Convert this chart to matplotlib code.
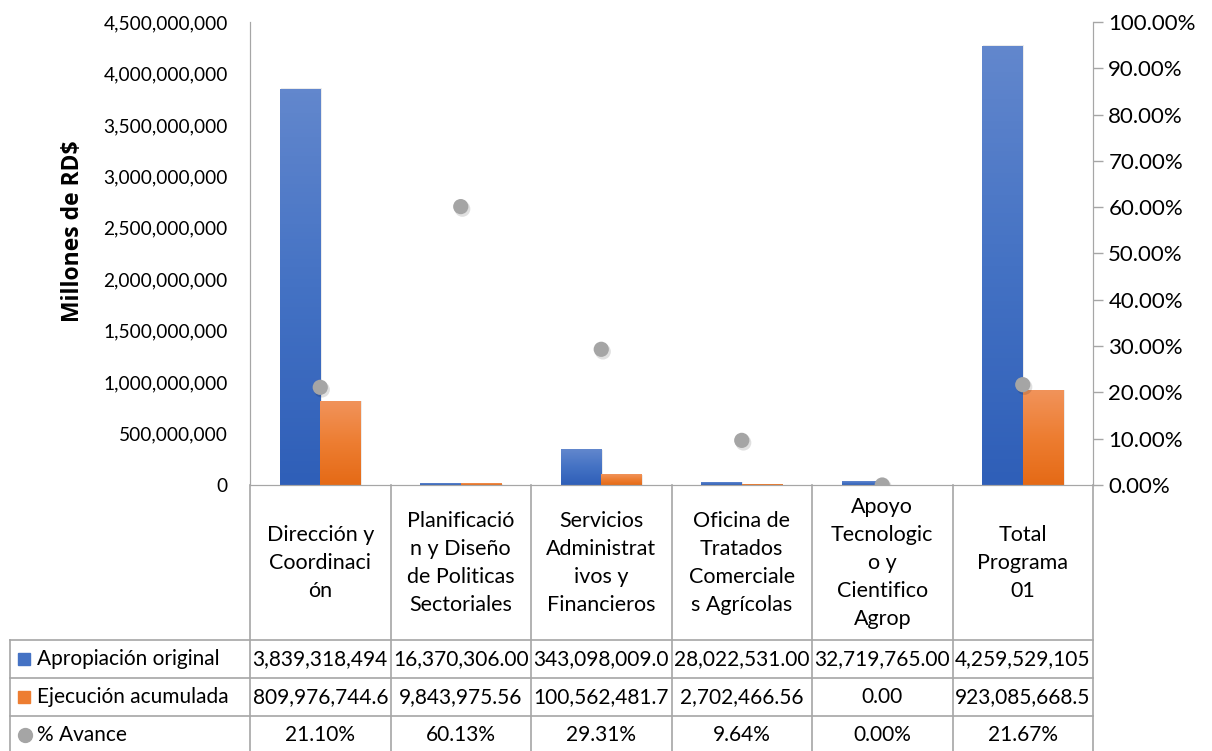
import numpy as np
import matplotlib
matplotlib.use('Agg')
import matplotlib.pyplot as plt
from matplotlib.colors import LinearSegmentedColormap
from matplotlib.patches import Rectangle

plt.rcParams['font.family'] = ['Lato', 'DejaVu Sans']

categorias = ['Dirección y\nCoordinaci\nón',
              'Planificació\nn y Diseño\nde Politicas\nSectoriales',
              'Servicios\nAdministrat\nivos y\nFinancieros',
              'Oficina de\nTratados\nComerciale\ns Agrícolas',
              'Apoyo\nTecnologic\no y\nCientifico\nAgrop',
              'Total\nPrograma\n01']
apropiacion = [3839318494, 16370306.00, 343098009.0, 28022531.00, 32719765.00, 4259529105]
ejecucion = [809976744.6, 9843975.56, 100562481.7, 2702466.56, 0.00, 923085668.5]
avance = [21.10, 60.13, 29.31, 9.64, 0.00, 21.67]

fila_apropiacion = ['3,839,318,494', '16,370,306.00', '343,098,009.0', '28,022,531.00', '32,719,765.00', '4,259,529,105']
fila_ejecucion = ['809,976,744.6', '9,843,975.56', '100,562,481.7', '2,702,466.56', '0.00', '923,085,668.5']
fila_avance = ['21.10%', '60.13%', '29.31%', '9.64%', '0.00%', '21.67%']

W, H = 1212, 751
fig = plt.figure(figsize=(W / 100, H / 100), dpi=100)
x0, x1, ytop, ybot = 250, 1093, 22, 485
ax = fig.add_axes([x0 / W, 1 - ybot / H, (x1 - x0) / W, (ybot - ytop) / H])
ax2 = ax.twinx()

n = len(categorias)
x = np.arange(n)
bw = 0.29

azul = LinearSegmentedColormap.from_list('azul', ['#2F5FB8', '#4472C4', '#6287CD'])
naranja = LinearSegmentedColormap.from_list('nar', ['#E56A16', '#ED7D31', '#F1935A'])
grad = np.linspace(0, 1, 100).reshape(-1, 1)


def barra(xc, h, cmap):
    if h <= 0:
        return
    # sombra suave
    ax.add_patch(Rectangle((xc - bw / 2 + 0.01, 0), bw, h * 1.005, color='#000000',
                           alpha=0.08, lw=0, zorder=1))
    ax.imshow(grad, cmap=cmap, origin='lower', aspect='auto',
              extent=[xc - bw / 2, xc + bw / 2, 0, h], zorder=2)


for i in range(n):
    barra(x[i] - bw / 2, apropiacion[i], azul)
    barra(x[i] + bw / 2, ejecucion[i], naranja)

ax.set_xlim(-0.5, n - 0.5)
ax.set_ylim(0, 4.5e9)
ax.set_yticks(np.arange(0, 4.5e9 + 1, 5e8))
ax.yaxis.set_major_formatter(matplotlib.ticker.FuncFormatter(lambda v, p: f'{v:,.0f}'))
ax.tick_params(axis='y', length=0, pad=16, labelsize=13.8, colors='#000000')
ax.set_xticks([])
ax.set_ylabel('Millones de RD$', fontsize=16.5, fontweight='bold',
              family=['Open Sans', 'DejaVu Sans'])
ax.yaxis.set_label_coords(-165 / (x1 - x0), (ybot - 231) / (ybot - ytop))

ax2.scatter(x + 0.012, np.array(avance) - 0.5, s=130, color='#000000', alpha=0.12,
            zorder=4, edgecolors='none')
ax2.scatter(x, avance, s=120, color='#A5A5A5', zorder=5, edgecolors='none')
ax2.set_ylim(0, 100)
ax2.set_yticks(np.arange(0, 101, 10))
ax2.yaxis.set_major_formatter(matplotlib.ticker.FuncFormatter(lambda v, p: f'{v:.2f}%'))
ax2.tick_params(axis='y', length=7, width=1, color='#A6A6A6', labelsize=16, pad=4)

for a in (ax, ax2):
    a.spines['top'].set_visible(False)
    a.spines['left'].set_color('#A6A6A6')
    a.spines['right'].set_color('#A6A6A6')
    a.spines['bottom'].set_color('#A6A6A6')
    a.patch.set_visible(False)


def fy(py):
    return 1 - py / H


def fx(px):
    return px / W


# tabla de datos
gris = '#A6A6A6'
linea = dict(color=gris, lw=1.2, clip_on=False, transform=fig.transFigure)
y_rows = [640, 678, 716, 754]
for yy in y_rows:
    fig.add_artist(plt.Line2D([fx(10), fx(x1)], [fy(yy), fy(yy)], **linea))
fig.add_artist(plt.Line2D([fx(10), fx(10)], [fy(640), fy(754)], **linea))
for k in range(n + 1):
    px = x0 + (x1 - x0) * k / n
    fig.add_artist(plt.Line2D([fx(px), fx(px)], [fy(ybot), fy(754)], **linea))

for i in range(n):
    fig.text(fx(x0 + (x1 - x0) * (i + 0.5) / n), fy(563), categorias[i],
             ha='center', va='center', fontsize=15.5, linespacing=1.5)

filas = [fila_apropiacion, fila_ejecucion, fila_avance]
nombres = ['Apropiación original', 'Ejecución acumulada', '% Avance']
for r, fila in enumerate(filas):
    yc = (y_rows[r] + y_rows[r + 1]) / 2
    for i, s in enumerate(fila):
        fig.text(fx(x0 + (x1 - x0) * (i + 0.5) / n), fy(yc), s,
                 ha='center', va='center', fontsize=15)
    fig.text(fx(37), fy(yc), nombres[r], ha='left', va='center', fontsize=15)

fig.add_artist(Rectangle((fx(18), fy(665)), fx(12), 12 / H, color='#4472C4', transform=fig.transFigure))
fig.add_artist(Rectangle((fx(18), fy(703)), fx(12), 12 / H, color='#ED7D31', transform=fig.transFigure))
fig.add_artist(plt.Line2D([fx(25)], [fy(735)], marker='o', markersize=10, color='#A5A5A5',
                          transform=fig.transFigure, linestyle='none'))

fig.savefig('out.png', dpi=100)
